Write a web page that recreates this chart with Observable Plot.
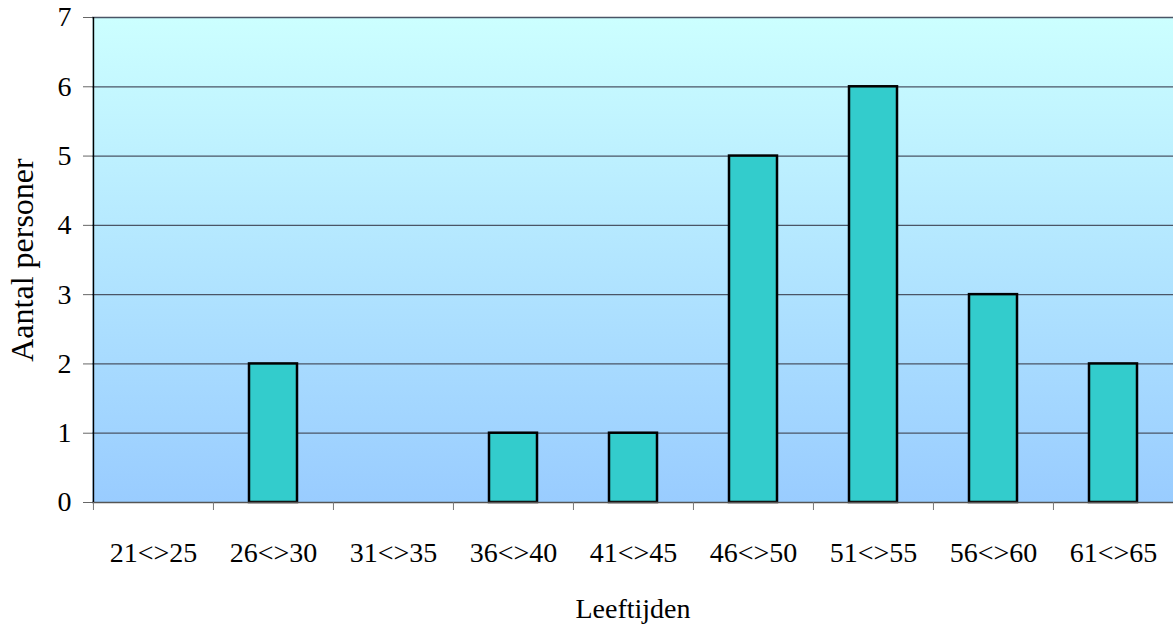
<!DOCTYPE html>
<html>
<head>
<meta charset="utf-8">
<script src="https://cdn.jsdelivr.net/npm/d3@7"></script>
<script src="https://cdn.jsdelivr.net/npm/@observablehq/plot@0.6"></script>
<style>
  html, body { margin: 0; padding: 0; background: #fff; }
  #chart svg { display: block; background: #fff; }
</style>
</head>
<body>
<div id="chart"></div>
<script>
const categories = ["21<>25", "26<>30", "31<>35", "36<>40", "41<>45", "46<>50", "51<>55", "56<>60", "61<>65"];
const counts = [0, 2, 0, 1, 1, 5, 6, 3, 2];
const yTicks = [0, 1, 2, 3, 4, 5, 6, 7];
const xLabel = "Leeftijden";
const yLabel = "Aantal personer";

const data = categories.map((c, i) => ({ cat: c, n: counts[i] }));

const W = 1173, H = 625;
const mL = 92, mR = 0, mT = 17, mB = 123;
const step = (W - mL - mR) / categories.length;
const font = "'Liberation Serif', Tinos, 'Times New Roman', Times, 'DejaVu Serif', serif";
const fs = 28;

const chart = Plot.plot({
  width: W,
  height: H,
  marginLeft: mL,
  marginRight: mR,
  marginTop: mT,
  marginBottom: mB,
  style: "overflow: visible;",
  x: { type: "band", domain: categories, paddingInner: 0.6, paddingOuter: 0.3 },
  y: { domain: [0, 7] },
  marks: [
    Plot.frame({ fill: "url(#bgGrad)", stroke: "none" }),
    Plot.gridY(yTicks.filter(d => d > 0), { stroke: "#4a5566", strokeOpacity: 1, strokeWidth: 1.3 }),
    Plot.barY(data, { x: "cat", y: "n", fill: "#33cccc", stroke: "#000", strokeWidth: 2.5 }),
    Plot.ruleY([0], { stroke: "#555", strokeWidth: 1.3 }),
    Plot.ruleX([categories[0]], { dx: -step / 2, stroke: "#000", strokeWidth: 1.5 }),
    Plot.axisY({ ticks: yTicks, tickSize: 9, tickPadding: 12, stroke: "#666", label: null, tickFormat: d3.format("d"), fontSize: fs, fill: "#000" }),
    Plot.axisX({ tickSize: 8, tickFormat: () => "", dx: -step / 2, stroke: "#777", label: null }),
    Plot.axisX({ tickSize: 0, tickPadding: 40, label: null, fontSize: fs, fill: "#000" }),
    Plot.text([xLabel], { frameAnchor: "bottom", dy: 115, fontSize: fs, lineAnchor: "bottom", fill: "#000" }),
    Plot.text([yLabel], { frameAnchor: "left", dx: -70, rotate: -90, textAnchor: "middle", fontSize: 32, fill: "#000" })
  ]
});

chart.setAttribute("font-family", font);
chart.style.fontFamily = font;
chart.querySelectorAll("g, text").forEach(el => { el.removeAttribute("font-family"); el.style.fontFamily = font; });

chart.insertAdjacentHTML("afterbegin",
  '<defs><linearGradient id="bgGrad" x1="0" y1="0" x2="0" y2="1">' +
  '<stop offset="0" stop-color="#ccffff"/><stop offset="1" stop-color="#99ccff"/>' +
  '</linearGradient></defs>');

document.getElementById("chart").appendChild(chart);
</script>
</body>
</html>
